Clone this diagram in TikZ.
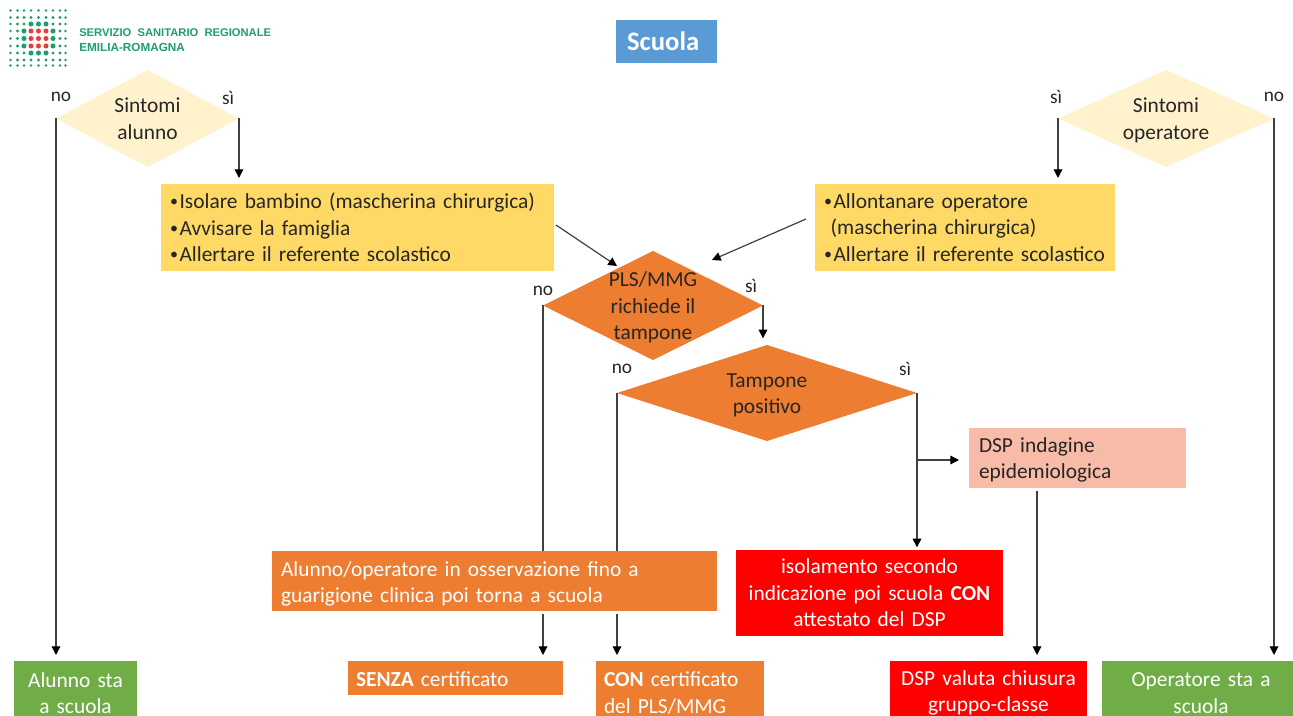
\documentclass[tikz,border=0pt]{standalone}
\usepackage{fontspec}
\setmainfont{Carlito}
\newfontfamily\logofont{Liberation Sans}
\usetikzlibrary{shapes.geometric,arrows.meta}
\definecolor{txt}{HTML}{262626}
\definecolor{lyellow}{HTML}{FFF2CC}
\definecolor{myellow}{HTML}{FFD966}
\definecolor{morange}{HTML}{ED7D31}
\definecolor{mblue}{HTML}{5B9BD5}
\definecolor{mgreen}{HTML}{70AD47}
\definecolor{mpink}{HTML}{F8BBA8}
\definecolor{mred}{HTML}{FF0000}
\definecolor{logogreen}{HTML}{1E9E6A}
\definecolor{logored}{HTML}{E0413F}
\definecolor{linegray}{HTML}{404040}
\newcommand\dtxt[1]{\smash{\raisebox{-6pt}{\makebox[0pt]{\begin{tabular}{@{}c@{}}#1\end{tabular}}}}}
\newcommand\bul{\makebox[7.2pt][l]{\raisebox{1.5pt}{\fontsize{12}{12}\selectfont •}}}
\newcommand\dn[2]{\raisebox{-#1}[\height][\depth]{#2}}
% \bx{name}{x1}{y1}{x2}{y2}{inset}{style}{text}
\newcommand\bx[8]{\node[boxbase,#7,text width={(#4-#2-2*#6)*0.75pt},inner xsep={#6*0.75pt},
  minimum height={(#5-#3)*0.75pt}] (#1) at ({(#2+#4)/2},{(#3+#5)/2}) {#8};}
\newcommand\dm[7]{\node[dmbase,#6,minimum width={(#4-#2)*0.75pt},minimum height={(#5-#3)*0.75pt}]
  (#1) at ({(#2+#4)/2},{(#3+#5)/2}) {\dtxt{#7}};}
\tikzset{
  boxbase/.style={rectangle,inner ysep=0pt,outer sep=0pt,font=\fontsize{16.05}{19.8}\selectfont,align=left},
  dmbase/.style={diamond,inner sep=0pt,outer sep=0pt,text=txt,font=\fontsize{16.05}{20}\selectfont},
  lab/.style={text=txt,font=\fontsize{14.5}{16}\selectfont,inner sep=0pt},
  conn/.style={draw=linegray,line width=0.9pt},
  arr/.style={conn,-{Triangle[length=6.5pt,width=6.5pt,color=black]}},
  gap/.style={shorten >=4.5pt},
}
\begin{document}
\begin{tikzpicture}[x=0.75pt,y=-0.75pt]
\useasboundingbox (0,0) rectangle (1293,716);
% logo
\foreach \yy [count=\r] in {10.5,17.5,24,31,38.5,46,53,60,65.5}{
  \foreach \xx [count=\c] in {10.5,17.5,24,31,38.5,46,53,60,65.5}{
    \pgfmathtruncatemacro\dr{abs(\r-5)}
    \pgfmathtruncatemacro\dc{abs(\c-5)}
    \pgfmathsetmacro\sz{(\dr<=2 && \dc<=2) ? ((\dr==2 && \dc==2) ? 2.4 : 3.8) : ((\dr<=3 && \dc<=3) ? 2.6 : 2.2)}
    \ifnum\dr<2 \ifnum\dc<2 \fill[logored] (\xx,\yy) circle[radius=\sz*0.5pt]; \else \fill[logogreen] (\xx,\yy) circle[radius=\sz*0.5pt]; \fi
    \else \fill[logogreen] (\xx,\yy) circle[radius=\sz*0.5pt]; \fi
  }
}
\node[anchor=west,inner sep=0pt,text=logogreen,font=\logofont\bfseries\fontsize{8.4}{10}\selectfont] (lg1) at (79,33) {SERVIZIO\ \ SANITARIO\ \ REGIONALE};
\node[anchor=west,inner sep=0pt,text=logogreen,font=\logofont\bfseries\fontsize{8.8}{10}\selectfont] (lg2) at (79,47) {EMILIA-ROMAGNA};
% title
\bx{title}{616}{20}{717}{63}{0}{fill=mblue,text=white,align=center,font=\fontsize{20}{24}\selectfont\bfseries}{\hspace*{-5pt}Scuola}
% diamonds
\dm{d1}{56}{70}{239}{167}{fill=lyellow}{Sintomi\\alunno}
\dm{d2}{1058}{70}{1274}{167}{fill=lyellow}{Sintomi\\operatore}
\dm{d3}{543}{251}{763}{360}{fill=morange}{PLS/MMG\\richiede il\\tampone}
\dm{d4}{617}{345}{917}{441}{fill=morange}{Tampone\\positivo}
% boxes
\bx{y1}{161}{184}{554}{271}{9}{fill=myellow,text=txt}{\bul Isolare bambino (mascherina chirurgica)\\\bul Avvisare la famiglia\\\bul Allertare il referente scolastico}
\bx{y2}{815}{184}{1115}{271}{9}{fill=myellow,text=txt}{\bul Allontanare operatore\\\hspace*{5pt}(mascherina chirurgica)\\\bul Allertare il referente scolastico}
\bx{obs}{272}{551}{717}{611}{9}{fill=morange,text=white}{\dn{2.2pt}{Alunno/operatore in osservazione fino a}\\\dn{2.2pt}{guarigione clinica poi torna a scuola}}
\bx{dsp}{969}{428}{1186}{488}{10}{fill=mpink,text=txt}{\dn{1.5pt}{DSP indagine}\\\dn{1.5pt}{epidemiologica}}
\bx{iso}{736}{550}{1003}{636}{4}{fill=mred,text=white,align=center}{isolamento secondo\\indicazione poi scuola \textbf{CON}\\attestato del DSP}
\bx{b1}{14}{661}{137}{725}{4}{fill=mgreen,text=white,align=center}{Alunno sta\\a scuola}
\bx{b2}{348}{661}{563}{695}{8}{fill=morange,text=white}{\dn{1.2pt}{\textbf{SENZA} certificato}}
\bx{b3}{596}{661}{764}{725}{8}{fill=morange,text=white}{\textbf{CON} certificato\\del PLS/MMG}
\bx{b4}{890}{661}{1087}{725}{4}{fill=mred,text=white,align=center}{DSP valuta chiusura\\gruppo-classe}
\bx{b5}{1102}{661}{1300}{725}{4}{fill=mgreen,text=white,align=center}{Operatore sta a\\scuola}
% labels
\node[lab] (l1) at (61,97) {no};
\node[lab] (l2) at (228,98) {sì};
\node[lab] (l3) at (1056,97) {sì};
\node[lab] (l4) at (1274,97) {no};
\node[lab] (l5) at (543,291) {no};
\node[lab] (l6) at (751,286) {sì};
\node[lab] (l7) at (622,369) {no};
\node[lab] (l8) at (905,369) {sì};
% connectors
\draw[arr,gap] (d1.west) -- (d1.west |- b1.north);
\draw[arr,gap] (d1.east) -- (d1.east |- y1.north);
\draw[arr,gap] (d2.west) -- (d2.west |- y2.north);
\draw[arr,gap] (d2.east) -- (d2.east |- b5.north);
\coordinate (a1s) at (556,225);
\coordinate (a1e) at (617,266);
\coordinate (a2s) at (806,219);
\coordinate (a2e) at (712,260);
\draw[arr] (a1s) -- (a1e);
\draw[arr] (a2s) -- (a2e);
\draw[arr,shorten >=5pt] (d3.east) -- (d3.east |- d4.north);
\draw[conn] (d3.west) -- (d3.west |- obs.north);
\draw[conn] (d4.west) -- (d4.west |- obs.north);
\draw[arr,gap,shorten <=2pt] (d3.west |- obs.south) -- (d3.west |- b2.north);
\draw[arr,gap,shorten <=2pt] (d4.west |- obs.south) -- (d4.west |- b3.north);
\draw[arr,shorten >=2pt] (d4.east) -- (d4.east |- iso.north);
\coordinate (dspx) at (1037,488);
\draw[arr,gap] (d4.east |- 0,460) -- (965,460);
\draw[arr,gap,shorten <=2pt] (dspx) -- (dspx |- b4.north);
\end{tikzpicture}
\end{document}
